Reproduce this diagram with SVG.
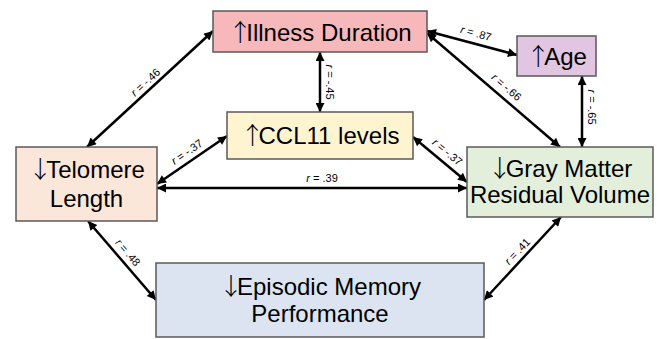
<svg xmlns="http://www.w3.org/2000/svg" width="662" height="339" viewBox="0 0 662 339">
<defs>
<marker id="ah" viewBox="0 0 10 10" refX="10" refY="5" markerUnits="userSpaceOnUse" markerWidth="11" markerHeight="9" orient="auto-start-reverse">
<path d="M0,0 L10,5 L0,10 z" fill="#000"/>
</marker>
</defs>
<style>
.box{stroke:#595959;stroke-width:1.5}
.t{font-family:"Liberation Sans",Arial,sans-serif;font-size:24px;fill:#000;text-anchor:middle}
.a{font-family:"Noto Sans CJK SC","DejaVu Sans",sans-serif;font-weight:300;letter-spacing:-6px;fill:#000}
.c{stroke:#000;stroke-width:2.5;fill:none;marker-start:url(#ah);marker-end:url(#ah)}
.l{font-family:"Liberation Sans",Arial,sans-serif;font-size:11px;fill:#000;text-anchor:middle}
.i{font-style:italic}
</style>
<rect width="662" height="339" fill="#fff"/>
<g id="connectors">
<line class="c" x1="87" y1="147" x2="213" y2="31"/>
<line class="c" x1="320" y1="52" x2="320" y2="112"/>
<line class="c" x1="427" y1="31" x2="517" y2="55"/>
<line class="c" x1="427" y1="33" x2="560" y2="147"/>
<line class="c" x1="582" y1="76" x2="582" y2="147"/>
<line class="c" x1="157" y1="184" x2="227" y2="136"/>
<line class="c" x1="413" y1="137" x2="467" y2="182"/>
<line class="c" x1="157" y1="188" x2="467" y2="188"/>
<line class="c" x1="88" y1="221" x2="156" y2="300"/>
<line class="c" x1="561" y1="217" x2="484" y2="300"/>
<text class="l" transform="translate(148,85) rotate(-42.6)"><tspan class="i">r</tspan> = -.46</text>
<text class="l" transform="translate(326,82) rotate(90)"><tspan class="i">r</tspan> = -.45</text>
<text class="l" transform="translate(475,37) rotate(15.3)"><tspan class="i">r</tspan> = .87</text>
<text class="l" transform="translate(504,90) rotate(40.6)"><tspan class="i">r</tspan> = -.66</text>
<text class="l" transform="translate(588,107) rotate(90)"><tspan class="i">r</tspan> = -.65</text>
<text class="l" transform="translate(189,155) rotate(-34.8)"><tspan class="i">r</tspan> = -.37</text>
<text class="l" transform="translate(445,155) rotate(39.8)"><tspan class="i">r</tspan> = -.37</text>
<text class="l" x="322" y="182"><tspan class="i">r</tspan> = .39</text>
<text class="l" transform="translate(125,255) rotate(49.3)"><tspan class="i">r</tspan> = .48</text>
<text class="l" transform="translate(520,254) rotate(-46.4)"><tspan class="i">r</tspan> = .41</text>
</g>
<g id="illness">
<rect class="box" x="213" y="11" width="214" height="41" fill="#F6B8BA"/>
<text class="t" x="320" y="41"><tspan class="a">↑</tspan>Illness Duration</text>
</g>
<g id="age">
<rect class="box" x="517" y="36" width="79" height="40" fill="#E2C5E0"/>
<text class="t" x="556.5" y="65"><tspan class="a">↑</tspan>Age</text>
</g>
<g id="ccl11">
<rect class="box" x="227" y="112" width="186" height="47" fill="#FEF4D0"/>
<text class="t" x="320" y="144"><tspan class="a">↑</tspan>CCL11 levels</text>
</g>
<g id="telomere">
<rect class="box" x="16" y="147" width="141" height="74" fill="#FBE7D9"/>
<text class="t" x="86.5" y="178"><tspan class="a">↓</tspan>Telomere</text>
<text class="t" x="86.5" y="207">Length</text>
</g>
<g id="graymatter">
<rect class="box" x="467" y="147" width="186" height="70" fill="#E3EFDB"/>
<text class="t" x="560" y="177"><tspan class="a">↓</tspan>Gray Matter</text>
<text class="t" x="560" y="203">Residual Volume</text>
</g>
<g id="episodic">
<rect class="box" x="156" y="263" width="328" height="74" fill="#DCE4F2"/>
<text class="t" x="320" y="295"><tspan class="a">↓</tspan>Episodic Memory</text>
<text class="t" x="320" y="322">Performance</text>
</g>
</svg>
